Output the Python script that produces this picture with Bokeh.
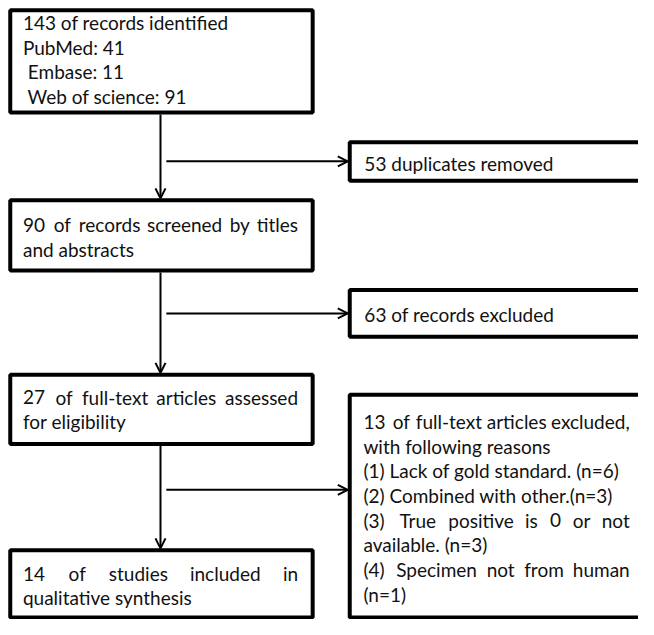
from bokeh.plotting import figure
from bokeh.models import Range1d, Arrow, OpenHead, ColumnDataSource
from bokeh.core.properties import value
from bokeh.embed import file_html
from bokeh.resources import INLINE

# ---------------- data ----------------
total_identified = 143
databases = ["PubMed", "Embase", "Web of science"]
database_counts = [41, 11, 91]
duplicates_removed = 53
screened = 90
screen_excluded = 63
fulltext_assessed = 27
fulltext_excluded = 13
exclusion_counts = [6, 3, 3, 1]
included = 14

NB = "\u00a0"
# text lines of each box: (text, justified?)
box_texts = {
    "identified": [
        (f"{total_identified} of records identified", False),
        (f"{databases[0]}: {database_counts[0]}", False),
        (f"{NB}{databases[1]}: {database_counts[1]}", False),
        (f"{NB}{databases[2]}: {database_counts[2]}", False),
    ],
    "duplicates": [(f"{duplicates_removed} duplicates removed", False)],
    "screened": [
        (f"{screened} of records screened by titles", True),
        ("and abstracts", False),
    ],
    "screen_excl": [(f"{screen_excluded} of records excluded", False)],
    "fulltext": [
        (f"{fulltext_assessed} of full-text articles assessed", True),
        ("for eligibility", False),
    ],
    "ft_excl": [
        (f"{fulltext_excluded} of full-text articles excluded,", True),
        ("with following reasons", False),
        (f"(1) Lack of gold standard. (n={exclusion_counts[0]})", False),
        (f"(2) Combined with other.(n={exclusion_counts[1]})", False),
        ("(3) True positive is 0 or not", True),
        (f"available. (n={exclusion_counts[2]})", False),
        ("(4) Specimen not from human", True),
        (f"(n={exclusion_counts[3]})", False),
    ],
    "included": [
        (f"{included} of studies included in", True),
        ("qualitative synthesis", False),
    ],
}

# ---------------- layout (reference pixel coordinates, y downward) ----------------
# box: left, right, top, bottom, text_x0, text_x1, first baseline, line step
layout = {
    "identified":  (10, 320, 10, 115, 23, 305, 23, 25.0),
    "duplicates":  (358, 720, 145.5, 185, 373, 645, 167, 25.3),
    "screened":    (10, 320, 205, 277, 23, 305, 230, 25.3),
    "screen_excl": (358, 720, 297, 345, 373, 645, 322, 25.3),
    "fulltext":    (10, 320, 384, 455, 23, 305, 407, 25.3),
    "ft_excl":     (358, 720, 404.5, 633, 372, 645, 432, 25.3),
    "included":    (10, 320, 564, 633, 23, 305, 588, 24.5),
}
# arrows: x_start, y_start, x_end, y_end
arrows = [
    (164, 117, 164, 203),
    (164, 279, 164, 382),
    (164, 457, 164, 562),
    (170, 165, 356, 165),
    (170, 321, 356, 321),
    (170, 502, 356, 502),
]

W, H = 638, 619
REF_W, REF_H = 654, 635
SCALE = W / REF_W
FONT = "Lato"
FS = 19  # screen px


def char_w(c):
    if c in "ijl.,:;|!'":
        return 0.23
    if c in "ftr":
        return 0.34
    if c in "()-":
        return 0.31
    if c == " ":
        return 0.26
    if c in "mw":
        return 0.80
    if c in "MW":
        return 0.92
    if c.isupper():
        return 0.64
    if c.isdigit() or c == "=":
        return 0.58
    if c in "cs":
        return 0.44
    if c in "aegkvxyz":
        return 0.50
    return 0.55


def word_w(w):
    return sum(char_w(c) for c in w) * FS / SCALE


p = figure(width=W, height=H, output_backend="svg", toolbar_location=None,
           x_range=Range1d(0, REF_W), y_range=Range1d(REF_H, 0),
           x_axis_location=None, y_axis_location=None, min_border=0)
p.outline_line_color = None
p.grid.visible = False
p.background_fill_color = "white"
p.border_fill_color = "white"

# boxes
names = list(layout.keys())
p.quad(left=[layout[n][0] for n in names], right=[layout[n][1] for n in names],
       top=[layout[n][2] for n in names], bottom=[layout[n][3] for n in names],
       fill_color="white", line_color="black", line_width=4)

left_src = dict(x=[], y=[], t=[])
center_src = dict(x=[], y=[], t=[])
right_src = dict(x=[], y=[], t=[])

for n in names:
    l, r, t, b, x0, x1, y0, step = layout[n]
    for i, (txt, just) in enumerate(box_texts[n]):
        y = y0 + i * step
        if not just:
            left_src["x"].append(x0)
            left_src["y"].append(y)
            left_src["t"].append(txt)
            continue
        words = txt.split()
        widths = [word_w(w) for w in words]
        gap = (x1 - x0 - sum(widths)) / (len(words) - 1)
        left_src["x"].append(x0); left_src["y"].append(y); left_src["t"].append(words[0])
        right_src["x"].append(x1); right_src["y"].append(y); right_src["t"].append(words[-1])
        cur = x0 + widths[0] + gap
        for w, ww in zip(words[1:-1], widths[1:-1]):
            center_src["x"].append(cur + ww / 2)
            center_src["y"].append(y)
            center_src["t"].append(w)
            cur += ww + gap

for src, align in ((left_src, "left"), (center_src, "center"), (right_src, "right")):
    p.text(x="x", y="y", text="t", source=ColumnDataSource(src),
           text_font=value(FONT), text_font_size=f"{FS}px", text_color="#111111",
           text_align=align, text_baseline="alphabetic")

for xs, ys, xe, ye in arrows:
    p.add_layout(Arrow(end=OpenHead(size=10, line_width=2, line_color="black"),
                       x_start=xs, y_start=ys, x_end=xe, y_end=ye,
                       line_width=2, line_color="black"))

open("out.html", "w").write(file_html(p, INLINE))
